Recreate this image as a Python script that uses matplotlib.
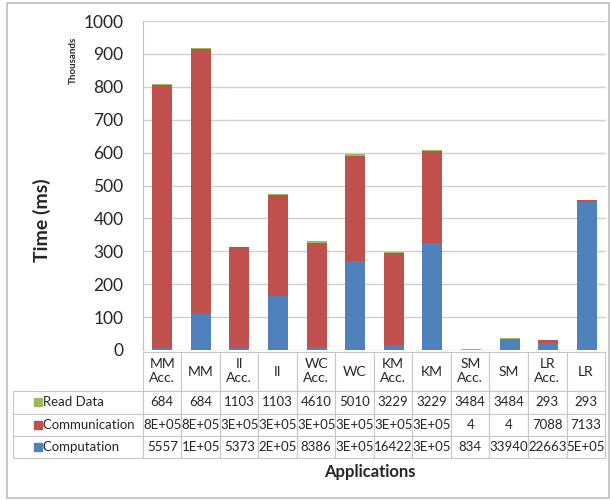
import numpy as np
import matplotlib
matplotlib.use("Agg")
import matplotlib.pyplot as plt
from matplotlib.patches import Rectangle

plt.rcParams['font.family'] = ['Lato', 'DejaVu Sans']

apps = ["MM\nAcc.", "MM", "II\nAcc.", "II", "WC\nAcc.", "WC",
        "KM\nAcc.", "KM", "SM\nAcc.", "SM", "LR\nAcc.", "LR"]
computation = [5557, 110000, 5373, 163000, 8386, 272000,
               16422, 324000, 834, 33940, 22663, 450000]
communication = [801000, 806000, 307000, 309000, 318000, 319000,
                 279000, 281000, 4, 4, 7088, 7133]
read_data = [684, 684, 1103, 1103, 4610, 5010,
             3229, 3229, 3484, 3484, 293, 293]

table_comm = ["8E+05", "8E+05", "3E+05", "3E+05", "3E+05", "3E+05",
              "3E+05", "3E+05", "4", "4", "7088", "7133"]
table_comp = ["5557", "1E+05", "5373", "2E+05", "8386", "3E+05",
              "16422", "3E+05", "834", "33940", "22663", "5E+05"]

BLUE = "#4F81BD"
RED = "#C0504D"
GREEN = "#9BBB59"
W, H = 610, 500

fig = plt.figure(figsize=(6.1, 5.0), dpi=100)
fig.patches.append(Rectangle((7 / W, 1 - 498 / H), 602 / W, 495 / H,
                             transform=fig.transFigure, fill=False,
                             edgecolor="#BFBFBF", linewidth=1.2))

left, right, top, bottom = 143, 606, 21, 350
ax_w, ax_h = right - left, bottom - top
ax = fig.add_axes([left / W, 1 - bottom / H, ax_w / W, ax_h / H])

x = np.arange(len(apps))
comp_k = np.array(computation) / 1000
comm_k = np.array(communication) / 1000
read_k = np.array(read_data) / 1000
ax.bar(x, comp_k, width=0.52, color=BLUE, zorder=3)
ax.bar(x, comm_k, width=0.52, bottom=comp_k, color=RED, zorder=3)
ax.bar(x, read_k, width=0.52, bottom=comp_k + comm_k, color=GREEN, zorder=3)

ax.set_xlim(-0.5, len(apps) - 0.5)
ax.set_ylim(0, 1000)
ax.set_yticks(np.arange(0, 1001, 100))
ax.tick_params(axis="y", length=0, pad=14, labelsize=12.5, labelcolor="#262626")
ax.set_xticks([])
ax.grid(axis="y", color="#D0D0D0", linewidth=1, zorder=0)
for side in ["top", "right", "bottom"]:
    ax.spines[side].set_visible(False)
ax.spines["left"].set_color("#BFBFBF")

# data table under the chart; cell sizes in axes units so the bbox scale stays ~1
cell_text = [[str(v) for v in read_data], table_comm, table_comp]
row_labels = ["Read Data", "Communication", "Computation"]
col_px, label_px, head_px, row_px = 38.5, 113, 39, 22.5
grid_h = head_px + 3 * row_px
tbl = ax.table(cellText=cell_text, rowLabels=["     " + r for r in row_labels],
               colLabels=apps, cellLoc="center", rowLoc="left",
               bbox=[0, -(grid_h + 2) / ax_h, col_px * len(apps) / ax_w, grid_h / ax_h])
tbl.auto_set_font_size(False)
for (r, c), cell in tbl.get_celld().items():
    cell.set_edgecolor("#C8C8C8")
    cell.set_linewidth(0.8)
    cell.get_text().set_fontsize(9.5)
    cell.get_text().set_color("#262626")
    cell.set_height((head_px if r == 0 else row_px) / ax_h)
    cell.set_width((label_px if c == -1 else col_px) / ax_w)
    if r == 0:
        cell.get_text().set_fontsize(10)

# legend keys inside the row label cells
for i, col in enumerate([GREEN, RED, BLUE]):
    yc = 352 + head_px + row_px / 2 + i * row_px
    fig.patches.append(Rectangle((34 / W, 1 - (yc + 4) / H), 8 / W, 8 / H,
                                 transform=fig.transFigure, color=col))

fig.text(42 / W, 1 - 220 / H, "Time (ms)", rotation=90, ha="center", va="center",
         fontsize=14, fontweight="bold", color="#262626")
fig.text(73 / W, 1 - 60 / H, "Thousands", rotation=90, ha="center", va="center",
         fontsize=7, fontweight="bold", color="#262626")
fig.text(370 / W, 1 - 472 / H, "Applications", ha="center", va="center",
         fontsize=12, fontweight="bold", color="#262626")

fig.savefig("out.png", dpi=100)
